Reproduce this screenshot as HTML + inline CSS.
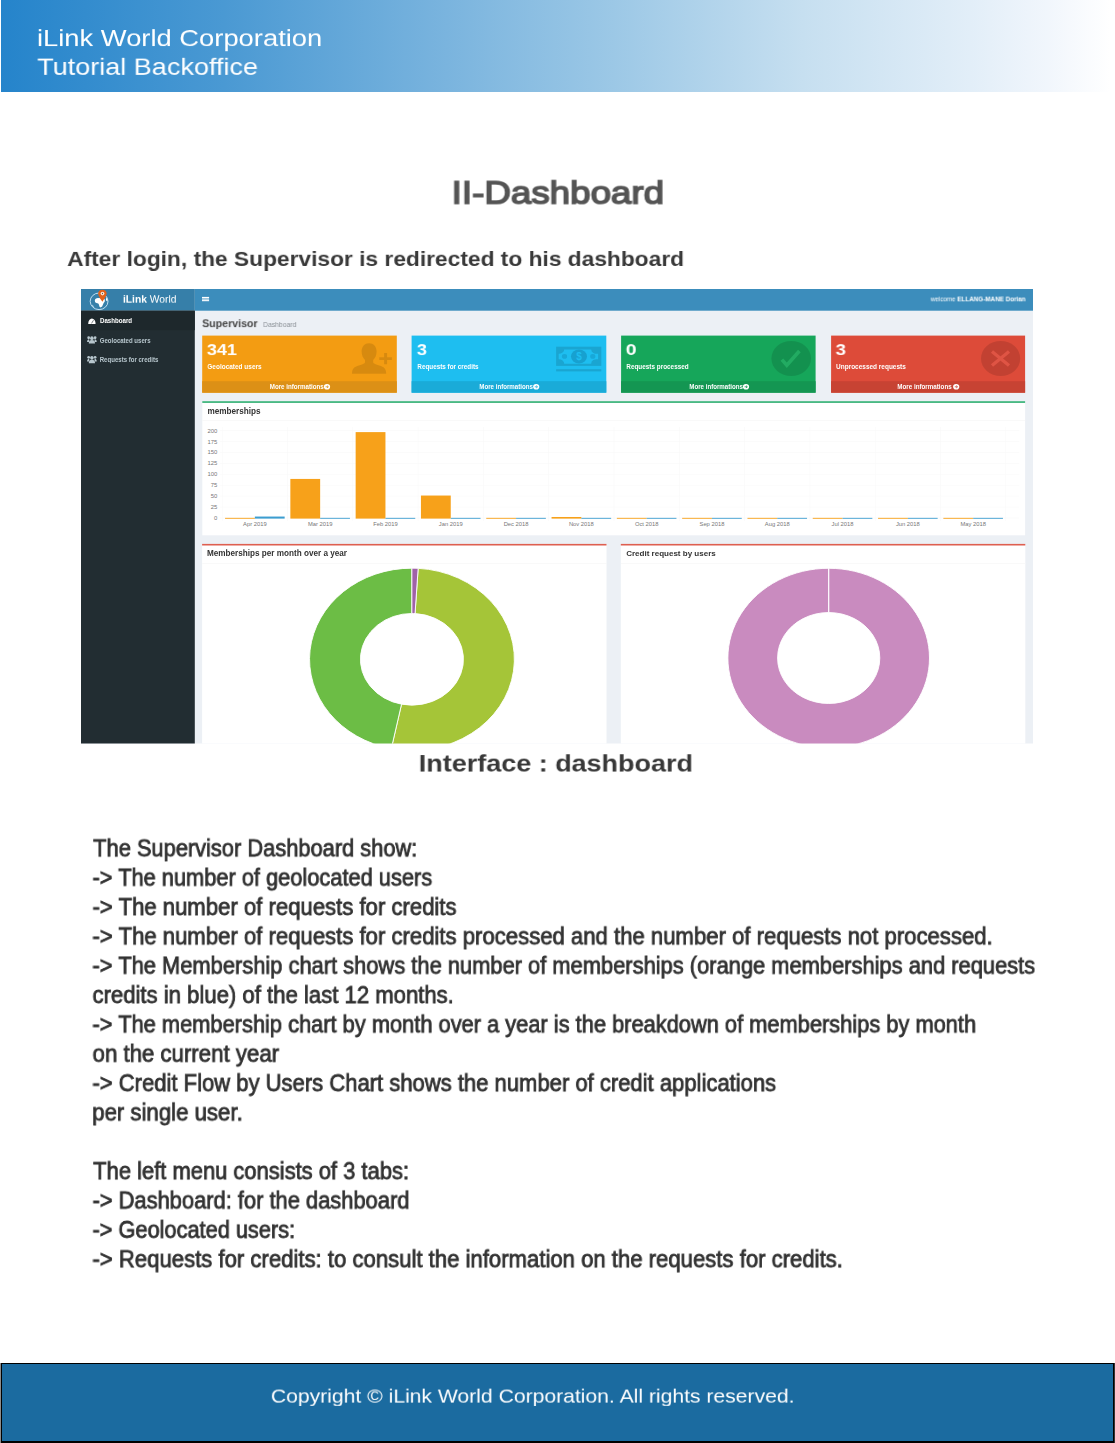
<!DOCTYPE html>
<html>
<head>
<meta charset="utf-8">
<title>II-Dashboard</title>
<style>
html,body{margin:0;padding:0;background:#fff;}
body{width:1115px;height:1443px;position:relative;overflow:hidden;font-family:"Liberation Sans",sans-serif;}
.abs{position:absolute;white-space:nowrap;line-height:1;transform-origin:0 0;will-change:transform;}
#hdr{position:absolute;left:1px;top:0;width:1114px;height:91.5px;background:linear-gradient(90deg,#2584cb 0%,#4a99d3 20%,#7ab4de 40%,#9cc8e6 55%,#c6dff0 72%,#e2eef8 87%,#f1f6fc 94%,#ffffff 99.6%);}
#ftr{position:absolute;left:1px;top:1363px;width:1113px;height:80px;box-sizing:border-box;background:#1b6ba0;border:1px solid #000;border-bottom-width:2px;}
#fl{position:absolute;left:0;top:1363px;width:1px;height:80px;background:#8c8c8c;}
#fr{position:absolute;left:1114px;top:1363px;width:1px;height:80px;background:#333;}
#gfx{position:absolute;left:0;top:0;}
</style>
</head>
<body>
<div id="hdr"></div>
<div id="ftr"></div><div id="fl"></div><div id="fr"></div>
<svg id="gfx" width="1115" height="1443" viewBox="0 0 1115 1443" font-family="Liberation Sans, sans-serif">
<defs><clipPath id="dbc"><rect x="81" y="289" width="952" height="454.5"/></clipPath></defs>
<g clip-path="url(#dbc)">
<rect x="81.00" y="289.00" width="952.00" height="456.00" fill="#ecf0f5" />
<rect x="194.80" y="289.00" width="840.00" height="21.70" fill="#3c8dbc" />
<rect x="81.00" y="289.00" width="113.80" height="21.70" fill="#367fa9" />
<rect x="81.00" y="310.70" width="113.80" height="440.00" fill="#222d32" />
<rect x="81.00" y="310.70" width="113.80" height="19.50" fill="#1e282c" />
<rect x="202.00" y="296.90" width="7.10" height="1.10" fill="#fff" />
<rect x="202.00" y="298.50" width="7.10" height="1.10" fill="#fff" />
<rect x="202.00" y="300.10" width="7.10" height="1.10" fill="#fff" />
<g>
<ellipse cx="99.1" cy="301.3" rx="8.9" ry="8.3" fill="none" stroke="#cfe8f7" stroke-width="0.9"/>
<path d="M94.8 300.5 Q95 298 98 298 L104 298.5 Q105.3 299.5 104.8 301.5 Q103.5 303 103 304.5 Q102.5 307 100.5 307.4 Q99 307 99 304.8 Q98.8 303.2 96.5 303 Q94.6 302.6 94.8 300.5 Z" fill="#fff"/>
<path d="M106.2 297.2 q1.5 1.6 1.4 4.4 q-1.1 -0.4 -1.7 -1.7 z" fill="#fff"/>
<path d="M91.6 304.2 q0.8 2.2 2.4 3.4 q-0.2 -2 -2.4 -3.4 z" fill="#cfe8f7"/>
<path d="M102.4 289.7 c-2.6 0 -4.2 1.7 -4.2 3.8 c0 2.8 4.1 8.2 4.1 8.2 c0 0 4.3 -5.4 4.3 -8.2 c0 -2.1 -1.6 -3.8 -4.2 -3.8 z" fill="#e2621b"/>
<ellipse cx="102.5" cy="293.6" rx="1.9" ry="1.8" fill="#fbe3d2"/>
<ellipse cx="102.5" cy="293.5" rx="0.5" ry="0.8" fill="#444"/>
</g>
<path d="M88.2 323.9 a3.7 5.4 0 0 1 7.4 0 z" fill="#fff"/>
<path d="M91.5 323.4 l2 -3.2" stroke="#1e282c" stroke-width="0.6"/>
<g fill="#b8c7ce" transform="translate(91.9 340.00) scale(1.12 1.18) translate(-91.9 -340.00)">
<ellipse cx="91.9" cy="338.50" rx="1.6" ry="1.6"/>
<path d="M89.1 343.00 q0 -2.9 2.8 -2.9 q2.8 0 2.8 2.9 z"/>
<ellipse cx="89.0" cy="338.10" rx="1.2" ry="1.2"/>
<ellipse cx="94.8" cy="338.10" rx="1.2" ry="1.2"/>
<path d="M87.6 341.60 q0 -2.3 1.9 -2.3 l0 2.3 z M96.2 341.60 q0 -2.3 -1.9 -2.3 l0 2.3 z"/>
</g>
<g fill="#b8c7ce" transform="translate(91.9 359.60) scale(1.12 1.18) translate(-91.9 -359.60)">
<ellipse cx="91.9" cy="358.10" rx="1.6" ry="1.6"/>
<path d="M89.1 362.60 q0 -2.9 2.8 -2.9 q2.8 0 2.8 2.9 z"/>
<ellipse cx="89.0" cy="357.70" rx="1.2" ry="1.2"/>
<ellipse cx="94.8" cy="357.70" rx="1.2" ry="1.2"/>
<path d="M87.6 361.20 q0 -2.3 1.9 -2.3 l0 2.3 z M96.2 361.20 q0 -2.3 -1.9 -2.3 l0 2.3 z"/>
</g>
<rect x="202.20" y="335.60" width="194.60" height="57.10" fill="#f39c12" />
<rect x="202.20" y="381.20" width="194.60" height="11.50" fill="#dc9016" />
<rect x="411.60" y="335.60" width="194.70" height="57.10" fill="#1ebef0" />
<rect x="411.60" y="381.20" width="194.70" height="11.50" fill="#1aabd8" />
<rect x="621.10" y="335.60" width="194.50" height="57.10" fill="#16a65a" />
<rect x="621.10" y="381.20" width="194.50" height="11.50" fill="#149652" />
<rect x="831.10" y="335.60" width="194.00" height="57.10" fill="#dd4b39" />
<rect x="831.10" y="381.20" width="194.00" height="11.50" fill="#c74333" />
<ellipse cx="327.00" cy="386.8" rx="3.1" ry="2.8" fill="#fff"/>
<path d="M325.60 386.8 h2.6 m-1.2 -1.2 l1.3 1.2 l-1.3 1.2" stroke="#dc9016" stroke-width="0.8" fill="none"/>
<ellipse cx="536.20" cy="386.8" rx="3.1" ry="2.8" fill="#fff"/>
<path d="M534.80 386.8 h2.6 m-1.2 -1.2 l1.3 1.2 l-1.3 1.2" stroke="#1aabd8" stroke-width="0.8" fill="none"/>
<ellipse cx="746.00" cy="386.8" rx="3.1" ry="2.8" fill="#fff"/>
<path d="M744.60 386.8 h2.6 m-1.2 -1.2 l1.3 1.2 l-1.3 1.2" stroke="#149652" stroke-width="0.8" fill="none"/>
<ellipse cx="956.20" cy="386.8" rx="3.1" ry="2.8" fill="#fff"/>
<path d="M954.80 386.8 h2.6 m-1.2 -1.2 l1.3 1.2 l-1.3 1.2" stroke="#c74333" stroke-width="0.8" fill="none"/>
<g fill="#000" fill-opacity="0.115">
<path d="M369 343.2 c4.6 0 7.6 3.4 7.6 8.4 c0 3.6 -1.4 6.6 -3.4 8.4 l0 2.4 c0.4 1.2 2.6 1.9 6.2 3 c4.6 1.4 6.8 3 6.8 8.3 l-34.2 0 c0 -5.3 2.2 -6.9 6.8 -8.3 c3.6 -1.1 5.8 -1.8 6.2 -3 l0 -2.4 c-2 -1.8 -3.4 -4.8 -3.4 -8.4 c0 -5 3 -8.4 7.4 -8.4 z"/>
<path d="M384.1 353 h3 v4.2 h4.8 v2.9 h-4.8 v4.2 h-3 v-4.2 h-4.8 v-2.9 h4.8 z"/>
</g>
<g>
<rect x="556.10" y="346.70" width="45.20" height="19.20" fill="#000" fill-opacity="0.13"/>
<rect x="556.10" y="369.20" width="45.20" height="2.20" fill="#000" fill-opacity="0.13"/>
<path d="M564.2 349.4 h27 a5.5 4.4 0 0 0 6.9 4.3 v5.6 a5.5 4.4 0 0 0 -6.9 4.4 h-27 a5.5 4.4 0 0 0 -5.5 -4.4 v-5.6 a5.5 4.4 0 0 0 5.5 -4.3 z" fill="#1ebef0"/>
<ellipse cx="579" cy="356.5" rx="8" ry="7.1" fill="#17a1d0"/>
<ellipse cx="564.5" cy="356.4" rx="2.6" ry="2.4" fill="#18a8d8"/>
<ellipse cx="592.8" cy="356.4" rx="2.6" ry="2.4" fill="#18a8d8"/>
<text x="579" y="360.1" font-size="10" font-weight="bold" fill="#1ebef0" text-anchor="middle">$</text>
</g>
<ellipse cx="791.2" cy="358.5" rx="19.8" ry="17.6" fill="#000" fill-opacity="0.12"/>
<path d="M781.9 359.6 L786.8 365.2 L799.4 351.0" stroke="#22ab62" stroke-width="3.6" fill="none"/>
<ellipse cx="1000.6" cy="358.5" rx="19.6" ry="17.6" fill="#000" fill-opacity="0.12"/>
<path d="M992 351.6 L1009 365.6 M1009 351.6 L992 365.6" stroke="#df5444" stroke-width="3.3" fill="none"/>
<rect x="202.30" y="401.30" width="822.80" height="134.00" fill="#fff" />
<rect x="202.30" y="401.30" width="822.80" height="1.50" fill="#1fa866" />
<rect x="202.30" y="420.30" width="822.80" height="0.60" fill="#f5f5f5" />
<rect x="221.90" y="427.00" width="0.60" height="94.00" fill="#f9f9f9" />
<rect x="287.20" y="427.00" width="0.60" height="94.00" fill="#f9f9f9" />
<rect x="352.50" y="427.00" width="0.60" height="94.00" fill="#f9f9f9" />
<rect x="417.80" y="427.00" width="0.60" height="94.00" fill="#f9f9f9" />
<rect x="483.10" y="427.00" width="0.60" height="94.00" fill="#f9f9f9" />
<rect x="548.40" y="427.00" width="0.60" height="94.00" fill="#f9f9f9" />
<rect x="613.70" y="427.00" width="0.60" height="94.00" fill="#f9f9f9" />
<rect x="679.00" y="427.00" width="0.60" height="94.00" fill="#f9f9f9" />
<rect x="744.30" y="427.00" width="0.60" height="94.00" fill="#f9f9f9" />
<rect x="809.60" y="427.00" width="0.60" height="94.00" fill="#f9f9f9" />
<rect x="874.90" y="427.00" width="0.60" height="94.00" fill="#f9f9f9" />
<rect x="940.20" y="427.00" width="0.60" height="94.00" fill="#f9f9f9" />
<rect x="1005.50" y="427.00" width="0.60" height="94.00" fill="#f9f9f9" />
<rect x="219.70" y="517.70" width="799.60" height="0.60" fill="#f9f9f9" />
<text x="217.3" y="520.10" font-size="5.9" fill="#777" text-anchor="end">0</text>
<rect x="219.70" y="506.76" width="799.60" height="0.60" fill="#f9f9f9" />
<text x="217.3" y="509.16" font-size="5.9" fill="#777" text-anchor="end">25</text>
<rect x="219.70" y="495.82" width="799.60" height="0.60" fill="#f9f9f9" />
<text x="217.3" y="498.23" font-size="5.9" fill="#777" text-anchor="end">50</text>
<rect x="219.70" y="484.89" width="799.60" height="0.60" fill="#f9f9f9" />
<text x="217.3" y="487.29" font-size="5.9" fill="#777" text-anchor="end">75</text>
<rect x="219.70" y="473.95" width="799.60" height="0.60" fill="#f9f9f9" />
<text x="217.3" y="476.35" font-size="5.9" fill="#777" text-anchor="end">100</text>
<rect x="219.70" y="463.01" width="799.60" height="0.60" fill="#f9f9f9" />
<text x="217.3" y="465.41" font-size="5.9" fill="#777" text-anchor="end">125</text>
<rect x="219.70" y="452.07" width="799.60" height="0.60" fill="#f9f9f9" />
<text x="217.3" y="454.48" font-size="5.9" fill="#777" text-anchor="end">150</text>
<rect x="219.70" y="441.14" width="799.60" height="0.60" fill="#f9f9f9" />
<text x="217.3" y="443.54" font-size="5.9" fill="#777" text-anchor="end">175</text>
<rect x="219.70" y="430.20" width="799.60" height="0.60" fill="#f9f9f9" />
<text x="217.3" y="432.60" font-size="5.9" fill="#777" text-anchor="end">200</text>
<text x="254.85" y="526.1" font-size="5.8" fill="#777" text-anchor="middle">Apr 2019</text>
<rect x="225.05" y="517.85" width="29.80" height="0.90" fill="#f7a11a" />
<rect x="254.85" y="516.55" width="29.80" height="2.05" fill="#3c9dd0" />
<text x="320.15" y="526.1" font-size="5.8" fill="#777" text-anchor="middle">Mar 2019</text>
<rect x="290.35" y="478.93" width="29.80" height="39.67" fill="#f7a11a" />
<rect x="320.15" y="517.85" width="29.80" height="0.90" fill="#3c9dd0" />
<text x="385.45" y="526.1" font-size="5.8" fill="#777" text-anchor="middle">Feb 2019</text>
<rect x="355.65" y="432.11" width="29.80" height="86.49" fill="#f7a11a" />
<rect x="385.45" y="517.85" width="29.80" height="0.90" fill="#3c9dd0" />
<text x="450.75" y="526.1" font-size="5.8" fill="#777" text-anchor="middle">Jan 2019</text>
<rect x="420.95" y="495.55" width="29.80" height="23.05" fill="#f7a11a" />
<rect x="450.75" y="517.85" width="29.80" height="0.90" fill="#3c9dd0" />
<text x="516.05" y="526.1" font-size="5.8" fill="#777" text-anchor="middle">Dec 2018</text>
<rect x="486.25" y="517.85" width="29.80" height="0.90" fill="#f7a11a" />
<rect x="516.05" y="517.85" width="29.80" height="0.90" fill="#3c9dd0" />
<text x="581.35" y="526.1" font-size="5.8" fill="#777" text-anchor="middle">Nov 2018</text>
<rect x="551.55" y="516.99" width="29.80" height="1.61" fill="#f7a11a" />
<rect x="581.35" y="517.85" width="29.80" height="0.90" fill="#3c9dd0" />
<text x="646.65" y="526.1" font-size="5.8" fill="#777" text-anchor="middle">Oct 2018</text>
<rect x="616.85" y="517.85" width="29.80" height="0.90" fill="#f7a11a" />
<rect x="646.65" y="517.85" width="29.80" height="0.90" fill="#3c9dd0" />
<text x="711.95" y="526.1" font-size="5.8" fill="#777" text-anchor="middle">Sep 2018</text>
<rect x="682.15" y="517.85" width="29.80" height="0.90" fill="#f7a11a" />
<rect x="711.95" y="517.85" width="29.80" height="0.90" fill="#3c9dd0" />
<text x="777.25" y="526.1" font-size="5.8" fill="#777" text-anchor="middle">Aug 2018</text>
<rect x="747.45" y="517.85" width="29.80" height="0.90" fill="#f7a11a" />
<rect x="777.25" y="517.85" width="29.80" height="0.90" fill="#3c9dd0" />
<text x="842.55" y="526.1" font-size="5.8" fill="#777" text-anchor="middle">Jul 2018</text>
<rect x="812.75" y="517.85" width="29.80" height="0.90" fill="#f7a11a" />
<rect x="842.55" y="517.85" width="29.80" height="0.90" fill="#3c9dd0" />
<text x="907.85" y="526.1" font-size="5.8" fill="#777" text-anchor="middle">Jun 2018</text>
<rect x="878.05" y="517.85" width="29.80" height="0.90" fill="#f7a11a" />
<rect x="907.85" y="517.85" width="29.80" height="0.90" fill="#3c9dd0" />
<text x="973.15" y="526.1" font-size="5.8" fill="#777" text-anchor="middle">May 2018</text>
<rect x="943.35" y="517.85" width="29.80" height="0.90" fill="#f7a11a" />
<rect x="973.15" y="517.85" width="29.80" height="0.90" fill="#3c9dd0" />
<rect x="202.10" y="544.00" width="404.40" height="210.00" fill="#fff" />
<rect x="202.10" y="543.90" width="404.40" height="1.60" fill="#de5f50" />
<rect x="202.10" y="563.30" width="404.40" height="0.60" fill="#f5f5f5" />
<rect x="620.80" y="544.00" width="404.50" height="210.00" fill="#fff" />
<rect x="620.80" y="543.90" width="404.50" height="1.60" fill="#de5f50" />
<rect x="620.80" y="563.30" width="404.50" height="0.60" fill="#f5f5f5" />
<path d="M418.15 568.33 A102.40 91.14 0 1 1 391.31 748.57 L401.54 704.20 A51.50 45.84 0 1 0 415.04 613.55 Z" fill="#a5c538" stroke="#fff" stroke-width="0.9" stroke-linejoin="round"/>
<path d="M391.31 748.57 A102.40 91.14 0 0 1 411.90 568.16 L411.90 613.46 A51.50 45.84 0 0 0 401.54 704.20 Z" fill="#6cbd45" stroke="#fff" stroke-width="0.9" stroke-linejoin="round"/>
<path d="M411.90 568.16 A102.40 91.14 0 0 1 418.15 568.33 L415.04 613.55 A51.50 45.84 0 0 0 411.90 613.46 Z" fill="#a062a8" stroke="#fff" stroke-width="0.9" stroke-linejoin="round"/>
<path d="M828.70 568.29 A100.80 89.71 0 1 1 828.68 568.29 L828.69 612.52 A51.10 45.48 0 1 0 828.70 612.52 Z" fill="#c98bbf" stroke="#fff" stroke-width="0.9" stroke-linejoin="round"/>
</g>
</svg>
<div class="abs" id="h1" style="left:36px;top:26px;font-size:27.35px;font-weight:normal;color:#fff;transform:translate(0.99px,0.61px) scale(1.0000,0.8478);">iLink World Corporation</div>
<div class="abs" id="h2" style="left:37px;top:56px;font-size:27.03px;font-weight:normal;color:#fff;transform:translate(0.25px,0.03px) scale(1.0000,0.8530);">Tutorial Backoffice</div>
<div class="abs" id="title" style="left:451px;top:177px;font-size:36.76px;font-weight:normal;color:#555;transform:translate(0.59px,0.86px) scale(1.0000,0.8577);-webkit-text-stroke:1.7px #555;">II-Dashboard</div>
<div class="abs" id="sub" style="left:67px;top:248px;font-size:22.75px;font-weight:bold;color:#383838;transform:translate(0.18px,0.15px) scale(1.0000,0.9367);">After login, the Supervisor is redirected to his dashboard</div>
<div class="abs" id="cap" style="left:418px;top:752px;font-size:26.98px;font-weight:bold;color:#383838;transform:translate(0.75px,0.52px) scale(1.0000,0.8645);">Interface : dashboard</div>
<div class="abs" id="f1" style="left:270px;top:1385px;font-size:21.13px;font-weight:normal;color:#fff;transform:translate(0.82px,0.80px) scale(1.0000,0.9330);">Copyright © iLink World Corporation. All rights reserved.</div>
<div class="abs" id="p1" style="left:93px;top:836px;font-size:24.98px;font-weight:normal;color:#333;transform:translate(0.17px,0.71px) scale(0.8748,0.9313);-webkit-text-stroke:0.85px #333;">The Supervisor Dashboard show:</div>
<div class="abs" id="p2" style="left:92px;top:866px;font-size:24.98px;font-weight:normal;color:#333;transform:translate(0.48px,0.02px) scale(0.8734,0.9330);-webkit-text-stroke:0.85px #333;">-&gt; The number of geolocated users</div>
<div class="abs" id="p3" style="left:92px;top:895px;font-size:24.98px;font-weight:normal;color:#333;transform:translate(0.47px,0.42px) scale(0.8858,0.9305);-webkit-text-stroke:0.85px #333;">-&gt; The number of requests for credits</div>
<div class="abs" id="p4" style="left:92px;top:924px;font-size:24.98px;font-weight:normal;color:#333;transform:translate(0.46px,0.75px) scale(0.8859,0.9311);-webkit-text-stroke:0.85px #333;">-&gt; The number of requests for credits processed and the number of requests not processed.</div>
<div class="abs" id="p5" style="left:92px;top:954px;font-size:24.98px;font-weight:normal;color:#333;transform:translate(0.47px,0.05px) scale(0.8763,0.9322);-webkit-text-stroke:0.85px #333;">-&gt; The Membership chart shows the number of memberships (orange memberships and requests</div>
<div class="abs" id="p6" style="left:92px;top:983px;font-size:24.98px;font-weight:normal;color:#333;transform:translate(0.49px,0.45px) scale(0.8856,0.9315);-webkit-text-stroke:0.85px #333;">credits in blue) of the last 12 months.</div>
<div class="abs" id="p7" style="left:92px;top:1012px;font-size:24.98px;font-weight:normal;color:#333;transform:translate(0.47px,0.77px) scale(0.8744,0.9317);-webkit-text-stroke:0.85px #333;">-&gt; The membership chart by month over a year is the breakdown of memberships by month</div>
<div class="abs" id="p8" style="left:92px;top:1042px;font-size:24.98px;font-weight:normal;color:#333;transform:translate(0.53px,0.13px) scale(0.8899,0.9310);-webkit-text-stroke:0.85px #333;">on the current year</div>
<div class="abs" id="p9" style="left:92px;top:1071px;font-size:24.98px;font-weight:normal;color:#333;transform:translate(0.46px,0.54px) scale(0.8821,0.9316);-webkit-text-stroke:0.85px #333;">-&gt; Credit Flow by Users Chart shows the number of credit applications</div>
<div class="abs" id="p10" style="left:92px;top:1100px;font-size:24.98px;font-weight:normal;color:#333;transform:translate(0.17px,0.80px) scale(0.8887,0.9337);-webkit-text-stroke:0.85px #333;">per single user.</div>
<div class="abs" id="p11" style="left:93px;top:1159px;font-size:24.98px;font-weight:normal;color:#333;transform:translate(0.17px,0.46px) scale(0.8787,0.9354);-webkit-text-stroke:0.85px #333;">The left menu consists of 3 tabs:</div>
<div class="abs" id="p12" style="left:92px;top:1188px;font-size:24.98px;font-weight:normal;color:#333;transform:translate(0.54px,0.86px) scale(0.8763,0.9337);-webkit-text-stroke:0.85px #333;">-&gt; Dashboard: for the dashboard</div>
<div class="abs" id="p13" style="left:92px;top:1218px;font-size:24.98px;font-weight:normal;color:#333;transform:translate(0.49px,0.22px) scale(0.8717,0.9326);-webkit-text-stroke:0.85px #333;">-&gt; Geolocated users:</div>
<div class="abs" id="p14" style="left:92px;top:1247px;font-size:24.98px;font-weight:normal;color:#333;transform:translate(0.46px,0.60px) scale(0.8857,0.9314);-webkit-text-stroke:0.85px #333;">-&gt; Requests for credits: to consult the information on the requests for credits.</div>
<div class="abs" id="d_logo" style="left:122px;top:295px;font-size:10.27px;font-weight:normal;color:#fff;transform:translate(1.00px,0.20px) scale(1.0000,0.9314);"><b>iLink</b> World</div>
<div class="abs" id="d_wel" style="left:930px;top:296px;font-size:6.31px;font-weight:normal;color:#fff;transform:translate(0.66px,0.57px) scale(1.0000,0.9424);">welcome <b>ELLANG-MANE Dorian</b></div>
<div class="abs" id="d_m1" style="left:99px;top:317px;font-size:6.16px;font-weight:bold;color:#fff;transform:translate(0.96px,0.78px) scale(1.0000,1.0820);">Dashboard</div>
<div class="abs" id="d_m2" style="left:99px;top:337px;font-size:6.06px;font-weight:bold;color:#b8c7ce;transform:translate(0.75px,0.04px) scale(1.0000,1.1238);">Geolocated users</div>
<div class="abs" id="d_m3" style="left:99px;top:356px;font-size:6.07px;font-weight:bold;color:#b8c7ce;transform:translate(0.74px,0.18px) scale(1.0000,1.1453);">Requests for credits</div>
<div class="abs" id="d_h" style="left:202px;top:318px;font-size:10.62px;font-weight:bold;color:#444;transform:translate(0.21px,0.28px) scale(1.0000,0.9825);">Supervisor</div>
<div class="abs" id="d_hs" style="left:263px;top:321px;font-size:6.81px;font-weight:normal;color:#8a9096;transform:translate(0.18px,0.99px) scale(1.0000,0.9999);">Dashboard</div>
<div class="abs" id="d_n0" style="left:206px;top:342px;font-size:18.07px;font-weight:bold;color:#fff;transform:translate(0.85px,0.49px) scale(1.0000,0.8398);">341</div>
<div class="abs" id="d_n1" style="left:416px;top:342px;font-size:18.14px;font-weight:bold;color:#fff;transform:translate(0.86px,0.45px) scale(1.0000,0.8431);">3</div>
<div class="abs" id="d_n2" style="left:625px;top:342px;font-size:19.45px;font-weight:bold;color:#fff;transform:translate(0.75px,0.69px) scale(1.0000,0.7598);">0</div>
<div class="abs" id="d_n3" style="left:835px;top:342px;font-size:18.57px;font-weight:bold;color:#fff;transform:translate(0.61px,0.50px) scale(1.0000,0.8387);">3</div>
<div class="abs" id="d_l0" style="left:207px;top:363px;font-size:6.47px;font-weight:bold;color:#fff;transform:translate(0.34px,0.84px) scale(1.0000,1.0307);">Geolocated users</div>
<div class="abs" id="d_l1" style="left:417px;top:364px;font-size:6.34px;font-weight:bold;color:#fff;transform:translate(0.33px,0.03px) scale(1.0000,1.0509);">Requests for credits</div>
<div class="abs" id="d_l2" style="left:626px;top:364px;font-size:6.38px;font-weight:bold;color:#fff;transform:translate(0.32px,0.01px) scale(1.0000,1.0443);">Requests processed</div>
<div class="abs" id="d_l3" style="left:836px;top:363px;font-size:6.48px;font-weight:bold;color:#fff;transform:translate(0.07px,0.93px) scale(1.0000,1.0289);">Unprocessed requests</div>
<div class="abs" id="d_mi0" style="left:269px;top:383px;font-size:6.20px;font-weight:bold;color:#fff;transform:translate(0.73px,0.42px) scale(1.0000,1.1448);">More informations</div>
<div class="abs" id="d_mi1" style="left:479px;top:383px;font-size:6.15px;font-weight:bold;color:#fff;transform:translate(0.31px,0.41px) scale(1.0000,1.1549);">More informations</div>
<div class="abs" id="d_mi2" style="left:689px;top:383px;font-size:6.15px;font-weight:bold;color:#fff;transform:translate(0.31px,0.41px) scale(1.0000,1.1549);">More informations</div>
<div class="abs" id="d_mi3" style="left:897px;top:383px;font-size:6.24px;font-weight:bold;color:#fff;transform:translate(0.28px,0.74px) scale(1.0000,1.1386);">More informations</div>
<div class="abs" id="d_t1" style="left:207px;top:407px;font-size:8.19px;font-weight:bold;color:#333;transform:translate(0.44px,0.94px) scale(1.0000,1.0000);">memberships</div>
<div class="abs" id="d_t2" style="left:206px;top:550px;font-size:8.16px;font-weight:bold;color:#333;transform:translate(0.92px,0.23px) scale(1.0000,1.0000);">Memberships per month over a year</div>
<div class="abs" id="d_t3" style="left:626px;top:550px;font-size:8.03px;font-weight:bold;color:#333;transform:translate(0.19px,0.21px) scale(1.0000,1.0000);">Credit request by users</div>
</body>
</html>
